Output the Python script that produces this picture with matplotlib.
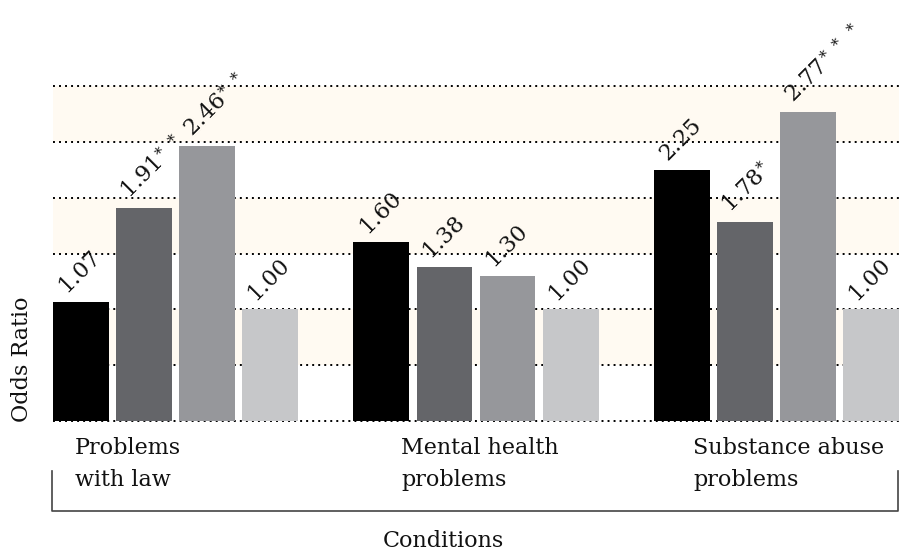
import numpy as np
import matplotlib
matplotlib.use("Agg")
import matplotlib.pyplot as plt
from matplotlib.lines import Line2D

# -----------------------
# data
# -----------------------
conditions = ["Problems\nwith law", "Mental health\nproblems", "Substance abuse\nproblems"]
series_a = [1.07, 1.60, 2.25]
series_b = [1.91, 1.38, 1.78]
series_c = [2.46, 1.30, 2.77]
series_ref = [1.00, 1.00, 1.00]
stars_a = ["", "", ""]
stars_b = ["**", "", "*"]
stars_c = ["**", "", "***"]
stars_ref = ["", "", ""]

# -----------------------
# style / layout
# -----------------------
FONT = "DejaVu Serif"
plt.rcParams["font.family"] = FONT
plt.rcParams["mathtext.fontset"] = "dejavuserif"

bar_colors = ["#000000", "#646569", "#96979b", "#c6c7c9"]
band_color = "#fffaf2"
text_color = "#111111"
step = 0.21
width = 0.186
label_dx = [-0.335, -0.25, -0.278]

fig = plt.figure(figsize=(8.99, 5.55), dpi=100)
ax = fig.add_axes([53 / 899, 1 - 421 / 555, 846 / 899, (421 - 86) / 555])

x = np.arange(len(conditions))
all_series = [series_a, series_b, series_c, series_ref]
all_stars = [stars_a, stars_b, stars_c, stars_ref]

# bands + dotted grid
for lo in [0.5, 1.5, 2.5]:
    ax.axhspan(lo, lo + 0.5, color=band_color, zorder=0, lw=0)
for gy in np.arange(0, 3.01, 0.5):
    ax.axhline(gy, color="black", lw=1.4, ls=(0, (1, 2.1)), zorder=1, clip_on=False)

for i, (vals, stars) in enumerate(zip(all_series, all_stars)):
    pos = x + (i - 1.5) * step
    ax.bar(pos, vals, width=width, color=bar_colors[i], zorder=2)
    for p, v, s in zip(pos, vals, stars):
        txt = f"{v:.2f}"
        if s:
            txt += r"$^{" + r"\;".join([r"\ast"] * len(s)) + r"}$"
        ax.annotate(txt, (p, v), xytext=(-11, 5), textcoords="offset pixels",
                    rotation=45, rotation_mode="anchor", ha="left", va="bottom",
                    fontsize=16, color=text_color, zorder=3)

ax.set_xlim(-1.5 * step - width / 2, 2 + 1.5 * step + width / 2)
ax.set_ylim(0, 3.0)
ax.axis("off")

# category labels
for xi, name, dx in zip(x, conditions, label_dx):
    ax.text(xi + dx, -0.145, name, ha="left", va="top", fontsize=16,
            linespacing=1.55, color=text_color)

# bracket under the categories
fx = lambda px: px / 899
fy = lambda py: 1 - py / 555
fig.add_artist(Line2D([fx(52), fx(52), fx(898), fx(898)],
                      [fy(471), fy(511), fy(511), fy(471)],
                      color="#444444", lw=1.2))

fig.text(fx(443), fy(541), "Conditions", ha="center", va="center", fontsize=16, color=text_color)
fig.text(fx(22), fy(359), "Odds Ratio", ha="center", va="center", rotation=90,
         fontsize=16, color=text_color)

fig.savefig("out.png", dpi=100)
